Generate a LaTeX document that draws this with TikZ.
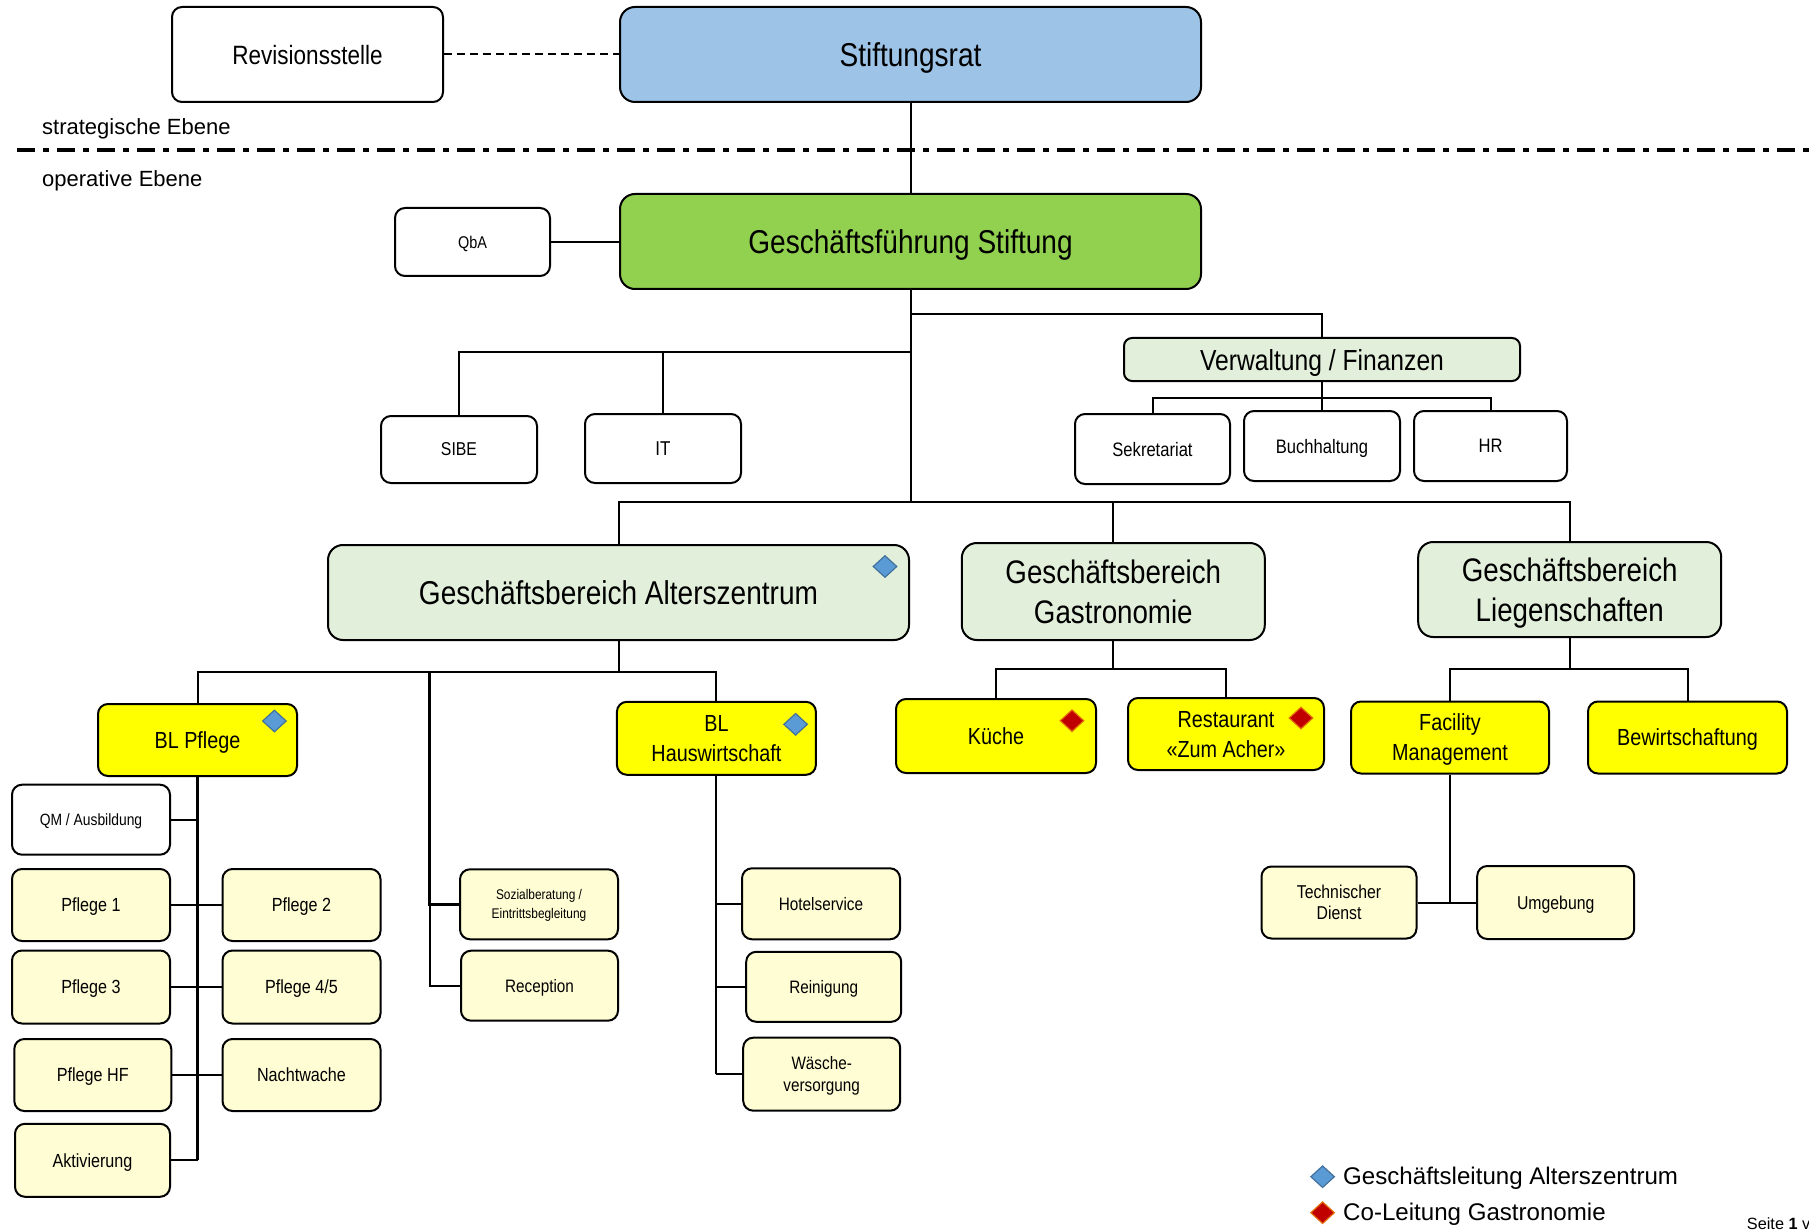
\documentclass[tikz,border=0pt]{standalone}
\usepackage{fontspec}
\setmainfont{Liberation Sans}
\newfontfamily\nf[FakeStretch=0.85]{Liberation Sans}
\usetikzlibrary{shapes.geometric}
\definecolor{cblue}{HTML}{9DC3E6}
\definecolor{cgreen}{HTML}{92D050}
\definecolor{clgreen}{HTML}{E2EFDA}
\definecolor{cyellow}{HTML}{FFFF00}
\definecolor{clyellow}{HTML}{FFFDD3}
\definecolor{dblue}{HTML}{5B9BD5}
\definecolor{dblueb}{HTML}{41719C}
\definecolor{dred}{HTML}{C00000}
\definecolor{dredb}{HTML}{E46C0A}
\newcommand\fz[2]{\fontsize{#1pt}{#2pt}\selectfont}
\tikzset{
  box/.style={draw, line width=2pt, rounded corners=10pt, align=center, inner sep=2pt, text depth=0pt},
  sz/.style 2 args={minimum width=#1pt, minimum height=#2pt},
  bigbox/.style={box, rounded corners=15pt},
  wbox/.style={box, fill=white},
  lybox/.style={box, fill=clyellow},
  ybox/.style={box, fill=cyellow, font={\nf\fz{23.3}{30}}},
  gbox/.style={bigbox, fill=clgreen},
  conn/.style={line width=2pt},
  dia/.style={shape=diamond, inner sep=0pt, minimum width=24pt, minimum height=22pt, line width=1.2pt},
  bdia/.style={dia, fill=dblue, draw=dblueb},
  rdia/.style={dia, fill=dred, draw=dredb},
  lbl/.style={anchor=base west, inner sep=0pt, font={\fz{22}{26}}},
}
\begin{document}
\begin{tikzpicture}[x=1pt,y=-1pt]
\useasboundingbox (0,0) rectangle (1809,1230);
\clip (0,0) rectangle (1809,1230);

% level separator
\node[lbl] (strat) at (42,134.3) {strategische Ebene};
\node[lbl] (oper) at (42,186.7) {operative Ebene};
\coordinate (sepL) at (17,150);
\coordinate (sepR) at (1809,150);
\draw[line width=3.5pt, dash pattern=on 18pt off 8pt on 6pt off 8pt] (sepL) -- (sepR);

% top
\node[wbox, sz={271}{95}, font={\nf\fz{26.5}{32}}] (rev) at (307.5,54.5) {Revisionsstelle};
\node[bigbox, fill=cblue, sz={581}{95}, font={\nf\fz{33}{40}}] (stift) at (910.5,54.5) {Stiftungsrat};
\node[wbox, sz={155}{68}, font={\nf\fz{17}{21}}] (qba) at (472.5,242) {QbA};
\node[bigbox, fill=cgreen, sz={581}{95}, font={\nf\fz{33}{40}}] (gf) at (910.5,241.5) {Geschäftsführung Stiftung};

% staff
\node[wbox, sz={156}{67}, font={\nf\fz{18.6}{22}}] (sibe) at (459,449.5) {SIBE};
\node[wbox, sz={156}{69}, font={\nf\fz{20}{24}}] (it) at (663,448.5) {IT};
\node[box, fill=clgreen, rounded corners=8pt, sz={396}{43}, font={\nf\fz{29}{34}}] (verw) at (1322,359.5) {Verwaltung / Finanzen};
\node[wbox, sz={155}{70}, font={\nf\fz{19.5}{24}}] (sek) at (1152.5,449) {Sekretariat};
\node[wbox, sz={156}{70}, font={\nf\fz{19.5}{24}}] (buch) at (1322,446) {Buchhaltung};
\node[wbox, sz={153}{70}, font={\nf\fz{19.5}{24}}] (hr) at (1490.5,446) {HR};

% business areas
\node[gbox, sz={581}{95}, font={\nf\fz{33}{40}}] (az) at (618.5,592.5) {Geschäftsbereich Alterszentrum};
\node[gbox, sz={303}{97}, font={\nf\fz{32.6}{40}}] (gastro) at (1113.3,591.5) {Geschäftsbereich\\Gastronomie};
\node[gbox, sz={303}{95}, font={\nf\fz{32.6}{40}}] (lieg) at (1569.7,589.5) {Geschäftsbereich\\Liegenschaften};

% yellow level
\node[ybox, sz={199}{72}] (blp) at (197.5,740) {BL Pflege};
\node[ybox, sz={199}{73}] (blhw) at (716.4,738.3) {BL\\Hauswirtschaft};
\node[ybox, sz={200}{74}] (kueche) at (996,736) {Küche};
\node[ybox, sz={196}{72}] (rest) at (1226,734) {Restaurant\\«Zum Acher»};
\node[ybox, sz={198}{72}] (fm) at (1450,737.5) {Facility\\Management};
\node[ybox, sz={199}{72}] (bew) at (1687.5,737.5) {Bewirtschaftung};

% Pflege column
\node[wbox, sz={158}{70}, font={\nf\fz{16.3}{20}}] (qm) at (91,819.7) {QM / Ausbildung};
\node[lybox, sz={158}{72}, font={\nf\fz{19}{23}}] (p1) at (91,905) {Pflege 1};
\node[lybox, sz={158}{72}, font={\nf\fz{19}{23}}] (p2) at (301.5,905) {Pflege 2};
\node[lybox, sz={158}{73}, font={\nf\fz{19}{23}}] (p3) at (91,987) {Pflege 3};
\node[lybox, sz={158}{73}, font={\nf\fz{19}{23}}] (p45) at (301.5,987) {Pflege 4/5};
\node[lybox, sz={157}{72}, font={\nf\fz{19}{23}}] (phf) at (92.8,1075) {Pflege HF};
\node[lybox, sz={158}{72}, font={\nf\fz{19}{23}}] (nw) at (301.5,1075) {Nachtwache};
\node[lybox, sz={155}{73}, font={\nf\fz{19}{23}}] (akt) at (92.5,1160.3) {Aktivierung};

% middle column
\node[lybox, sz={158}{70}, font={\nf\fz{14}{19}}] (soz) at (539,904.3) {Sozialberatung /\\Eintrittsbegleitung};
\node[lybox, sz={157}{70}, font={\nf\fz{18}{22}}] (rec) at (539.5,985.7) {Reception};

% Hauswirtschaft column
\node[lybox, sz={158}{71}, font={\nf\fz{18}{22}}] (hotel) at (821,903.8) {Hotelservice};
\node[lybox, sz={155}{70}, font={\nf\fz{18}{22}}] (rein) at (823.7,986.8) {Reinigung};
\node[lybox, sz={157}{73}, font={\nf\fz{18}{22}}] (waesche) at (821.7,1074.2) {Wäsche-\\versorgung};

% Facility column
\node[lybox, sz={155}{72}, font={\nf\fz{18.6}{21}}] (td) at (1339,902.5) {Technischer\\Dienst};
\node[lybox, sz={157}{73}, font={\nf\fz{18.6}{22}}] (umg) at (1555.7,902.5) {Umgebung};

% diamonds
\node[bdia] (daz) at (885,566.5) {};
\node[bdia] (dblp) at (274.4,721) {};
\node[bdia] (dblhw) at (795.6,724.3) {};
\node[rdia] (dku) at (1072,720.7) {};
\node[rdia] (dre) at (1301,718) {};

% connectors
\draw[line width=2pt, dash pattern=on 8pt off 5pt] (rev.east) -- (stift.west);
\draw[conn] (stift.south) -- (gf.north);
\draw[conn] (qba.east) -- (qba.east -| gf.west);
\coordinate (j2) at (910.5,314);
\coordinate (j1) at (910.5,352);
\coordinate (j3) at (910.5,502);
\draw[conn] (gf.south) -- (j3);
\draw[conn] (j2) -| (verw.north);
\draw[conn] (j1) -| (sibe.north);
\draw[conn] (it.north) |- (j1);
\coordinate (vj) at (1322,397.7);
\draw[conn] (verw.south) -- (buch.north);
\draw[conn] (vj) -| (sek.north);
\draw[conn] (vj) -| (hr.north);
\draw[conn] (j3) -| (az.north);
\draw[conn] (j3) -| (gastro.north);
\draw[conn] (j3) -| (lieg.north);

\coordinate (aj) at (618.5,671.7);
\coordinate (mj) at (429.6,671.7);
\draw[conn] (az.south) -- (aj);
\draw[conn] (aj) -| (blp.north);
\draw[conn] (aj) -| (blhw.north);
\draw[line width=2.5pt] (mj) |- (soz.west);
\draw[conn] (mj) |- (rec.west);

\draw[line width=2.5pt] (blp.south) -- (blp.south |- akt.east);
\draw[conn] (qm.east) -- (qm.east -| blp.south);
\draw[conn] (p1.east) -- (p2.west);
\draw[conn] (p3.east) -- (p45.west);
\draw[conn] (phf.east) -- (nw.west);
\draw[conn] (akt.east) -- (akt.east -| blp.south);

\draw[conn] (blhw.south) -- (blhw.south |- waesche.west);
\draw[conn] (hotel.west) -- (hotel.west -| blhw.south);
\draw[conn] (rein.west) -- (rein.west -| blhw.south);
\draw[conn] (waesche.west) -- (waesche.west -| blhw.south);

\coordinate (gj) at (1113.3,669);
\draw[conn] (gastro.south) -- (gj);
\draw[conn] (gj) -| (kueche.north);
\draw[conn] (gj) -| (rest.north);

\coordinate (lj) at (1569.7,669.3);
\draw[conn] (lieg.south) -- (lj);
\draw[conn] (lj) -| (fm.north);
\draw[conn] (lj) -| (bew.north);

\draw[conn] (fm.south) -- (fm.south |- td.east);
\draw[conn] (td.east) -- (umg.west);

% legend
\node[bdia] (lgb) at (1322.6,1176.7) {};
\node[rdia] (lgr) at (1322.6,1212.7) {};
\node[anchor=west, inner sep=0pt, font={\fz{24.1}{30}}] (lgbt) at (1343,1178) {Geschäftsleitung Alterszentrum};
\node[anchor=west, inner sep=0pt, font={\fz{24.1}{30}}] (lgrt) at (1343,1214) {Co-Leitung Gastronomie};
\node[anchor=base west, inner sep=0pt, font={\fz{16.3}{20}}] (seite) at (1746.7,1229) {Seite \textbf{1} v};
\end{tikzpicture}
\end{document}
